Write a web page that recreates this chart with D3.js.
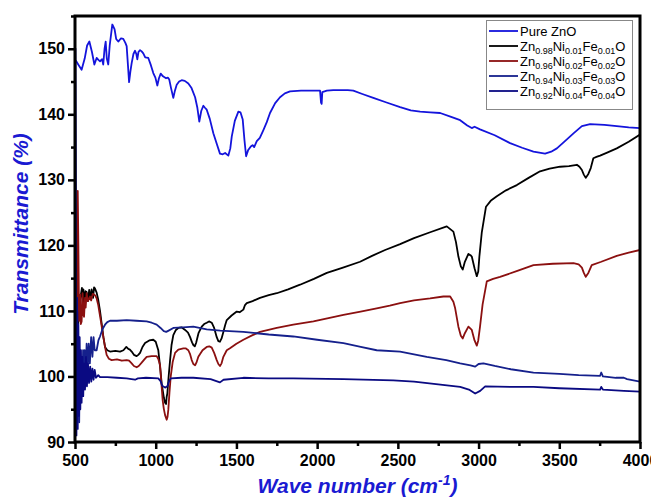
<!DOCTYPE html>
<html lang="en">
<head>
<meta charset="UTF-8">
<title>FTIR</title>
<script src="https://cdn.jsdelivr.net/npm/d3@7"></script>
<style>
  body { margin: 0; background: #fff; }
  svg { display: block; font-family: 'Liberation Sans', Arial, sans-serif; }
  .tick text { font-weight: bold; font-size: 16px; fill: #000; }
  .tick line { stroke: #000; stroke-width: 2.5px; }
  .domain { display: none; }
  .trace { fill: none; stroke-width: 1.8px; stroke-linejoin: round; }
</style>
</head>
<body>
<svg id="chart" width="651" height="499"></svg>
<script>
// wavenumber (cm-1), transmittance (%)
const pureZnO = [[505,148.2],[520,147.6],[541,146.8],[560,148.5],[575,150.5],[589,151.1],[605,149.5],[620,147.6],[634,148.6],[645,148.3],[655,148.1],[668,148.4],[675,147.6],[683,150.0],[690,151.1],[697,148.5],[706,147.6],[715,150.5],[731,153.7],[745,153.0],[755,151.5],[768,151.1],[785,151.6],[799,151.5],[812,150.9],[820,150.4],[828,147.5],[835,144.9],[843,146.5],[851,147.8],[862,149.2],[872,149.7],[880,149.2],[886,148.4],[893,149.5],[903,149.8],[913,149.6],[923,149.3],[935,148.7],[954,148.6],[970,147.5],[985,146.3],[998,145.6],[1010,144.4],[1020,145.5],[1031,146.2],[1045,145.8],[1064,145.5],[1075,145.6],[1084,145.3],[1095,144.0],[1109,142.5],[1118,143.5],[1130,144.5],[1145,145.0],[1161,145.2],[1180,145.1],[1202,144.7],[1222,144.0],[1244,142.6],[1258,141.0],[1270,138.9],[1282,140.5],[1295,141.3],[1305,141.0],[1316,140.7],[1335,139.3],[1357,137.1],[1378,135.5],[1398,134.0],[1415,133.9],[1430,134.1],[1450,133.7],[1462,134.8],[1471,136.6],[1490,139.0],[1512,140.4],[1525,140.3],[1539,139.2],[1550,136.0],[1560,133.6],[1572,134.5],[1589,135.1],[1600,135.3],[1610,135.0],[1626,135.9],[1645,136.4],[1667,137.6],[1688,138.8],[1708,140.2],[1740,141.7],[1770,142.6],[1800,143.2],[1832,143.5],[1900,143.6],[1960,143.6],[2018,143.6],[2024,141.8],[2028,141.6],[2032,143.4],[2060,143.6],[2100,143.7],[2142,143.7],[2190,143.7],[2224,143.6],[2280,143.1],[2348,142.5],[2430,141.8],[2514,141.1],[2580,140.6],[2638,140.4],[2700,140.3],[2762,140.2],[2830,139.6],[2886,139.1],[2930,138.3],[2958,137.9],[2975,138.1],[3009,137.7],[3100,136.8],[3195,135.6],[3270,134.9],[3340,134.3],[3412,134.0],[3450,134.3],[3485,134.8],[3530,135.8],[3588,137.1],[3640,138.2],[3691,138.5],[3780,138.4],[3856,138.2],[3930,138.0],[4000,137.9]];

const ni001 = [[520,108.0],[530,111.5],[543,113.5],[548,111.0],[552,113.3],[558,110.8],[565,113.0],[572,112.9],[580,111.5],[588,113.2],[595,111.8],[603,113.3],[612,112.0],[618,113.6],[624,113.4],[634,112.8],[644,111.7],[655,110.0],[665,108.1],[676,106.0],[686,104.5],[700,104.0],[717,103.8],[750,103.9],[779,103.8],[800,104.0],[818,104.5],[830,104.2],[840,104.1],[851,103.8],[865,103.3],[882,103.1],[892,103.3],[903,103.6],[918,104.5],[934,105.1],[960,105.5],[985,105.6],[1000,105.3],[1016,104.0],[1027,101.5],[1037,98.9],[1051,96.7],[1058,96.0],[1064,95.8],[1068,96.9],[1072,97.4],[1080,100.0],[1089,102.5],[1098,104.8],[1109,106.3],[1125,107.1],[1140,107.4],[1160,107.5],[1182,107.1],[1200,106.7],[1213,106.0],[1225,105.2],[1233,104.8],[1242,104.6],[1250,105.1],[1265,106.6],[1285,107.6],[1300,108.0],[1316,108.2],[1330,108.4],[1347,108.2],[1362,107.4],[1378,106.0],[1388,105.4],[1398,105.3],[1408,105.8],[1419,106.8],[1430,107.8],[1440,108.6],[1470,109.3],[1502,109.9],[1520,109.8],[1543,110.2],[1553,110.9],[1564,111.2],[1600,111.5],[1646,112.0],[1700,112.4],[1750,112.7],[1820,113.3],[1894,114.0],[1980,114.9],[2060,115.8],[2160,116.6],[2266,117.5],[2340,118.4],[2421,119.3],[2514,120.2],[2600,121.1],[2700,122.0],[2803,122.9],[2844,122.1],[2860,120.5],[2875,118.3],[2890,116.8],[2902,116.3],[2915,117.5],[2937,118.7],[2950,118.5],[2958,118.3],[2975,116.5],[2989,115.3],[2998,116.0],[3005,118.3],[3020,122.0],[3046,125.9],[3075,126.8],[3113,127.5],[3170,128.4],[3237,129.2],[3310,130.3],[3381,131.3],[3440,131.7],[3505,132.0],[3560,132.1],[3609,132.3],[3625,132.0],[3640,131.5],[3652,130.8],[3664,130.3],[3680,130.9],[3695,131.8],[3711,133.3],[3730,133.5],[3753,133.7],[3800,134.2],[3856,134.8],[3930,135.8],[4000,136.9]];

const ni002 = [[510,100.0],[514,118.0],[517,128.3],[521,120.0],[525,108.5],[532,112.5],[536,108.0],[541,108.4],[547,112.7],[552,109.5],[556,109.1],[562,112.0],[566,110.5],[572,112.7],[580,111.5],[593,112.2],[600,111.6],[610,112.6],[624,112.4],[634,111.9],[644,110.9],[660,108.5],[675,106.1],[686,104.5],[696,103.3],[710,102.7],[727,102.5],[760,102.6],[790,102.4],[820,102.5],[835,102.4],[851,102.0],[865,101.6],[882,101.4],[895,101.6],[913,102.1],[930,102.6],[944,103.0],[975,103.1],[1006,103.1],[1017,102.6],[1027,101.7],[1035,99.0],[1043,96.4],[1050,95.1],[1058,94.1],[1068,93.4],[1073,93.8],[1078,94.9],[1085,97.5],[1093,100.0],[1105,102.2],[1120,103.6],[1140,104.1],[1171,104.3],[1185,104.3],[1202,104.0],[1213,103.4],[1223,102.5],[1233,101.9],[1244,101.7],[1252,102.1],[1264,103.0],[1290,104.0],[1316,104.5],[1332,104.6],[1347,104.4],[1362,103.6],[1378,102.5],[1388,101.9],[1398,101.6],[1408,102.0],[1419,103.0],[1440,104.0],[1460,104.3],[1500,105.0],[1543,105.6],[1600,106.3],[1646,106.8],[1750,107.4],[1852,107.9],[1977,108.4],[2070,108.9],[2163,109.4],[2269,109.9],[2369,110.4],[2450,110.8],[2514,111.2],[2600,111.6],[2700,111.9],[2782,112.2],[2824,112.2],[2844,111.4],[2855,110.4],[2875,107.6],[2890,106.2],[2902,105.8],[2915,106.6],[2937,107.6],[2958,107.1],[2975,105.5],[2989,104.7],[2998,105.5],[3009,107.6],[3025,111.0],[3051,114.5],[3090,114.9],[3133,115.2],[3240,116.1],[3340,117.0],[3460,117.2],[3588,117.3],[3620,117.1],[3640,116.6],[3652,115.8],[3664,115.2],[3680,115.8],[3701,117.0],[3760,117.5],[3856,118.4],[3930,118.9],[4000,119.3]];

const ni003 = [[500,155.0],[503,120.0],[506,92.0],[510,98.0],[514,110.0],[518,95.0],[522,106.0],[526,93.0],[530,104.0],[535,96.0],[540,103.0],[545,97.0],[550,104.0],[555,99.0],[560,104.0],[566,100.0],[572,105.0],[578,101.0],[585,105.0],[592,102.0],[600,106.0],[608,103.0],[615,106.0],[622,104.0],[634,104.0],[645,105.5],[655,106.1],[670,107.2],[686,107.9],[700,108.3],[717,108.5],[760,108.5],[820,108.6],[880,108.5],[944,108.4],[975,108.2],[1006,107.9],[1030,107.4],[1050,106.9],[1065,106.8],[1080,107.0],[1109,107.4],[1170,107.5],[1233,107.6],[1316,107.2],[1400,107.0],[1543,106.8],[1700,106.4],[1852,106.1],[2000,105.6],[2163,105.1],[2270,104.5],[2369,104.0],[2514,103.8],[2679,103.0],[2800,102.5],[2886,102.0],[2950,101.7],[2979,101.5],[3000,101.9],[3030,102.0],[3100,101.6],[3200,101.1],[3340,100.6],[3500,100.4],[3620,100.2],[3753,100.1],[3760,100.6],[3770,100.0],[3850,99.8],[3900,99.8],[3920,99.6],[4000,99.2]];

const ni004 = [[500,91.0],[503,150.0],[506,125.0],[509,91.0],[513,112.0],[517,92.0],[521,108.0],[525,94.0],[529,106.0],[533,95.0],[537,104.0],[541,96.0],[546,103.0],[551,97.0],[556,102.0],[562,98.0],[568,103.0],[574,98.5],[580,102.0],[587,99.0],[594,101.5],[601,99.2],[608,101.2],[615,99.5],[622,101.0],[630,99.8],[644,100.2],[655,99.9],[700,99.9],[760,99.8],[820,99.7],[850,99.6],[872,99.5],[890,99.7],[940,99.8],[1016,99.7],[1030,99.3],[1040,98.6],[1058,98.3],[1072,98.5],[1085,99.4],[1093,99.7],[1160,99.8],[1233,99.8],[1340,99.6],[1398,99.1],[1420,99.5],[1543,99.8],[1700,99.7],[1852,99.7],[2163,99.6],[2472,99.4],[2600,99.2],[2750,98.8],[2886,98.4],[2940,98.0],[2979,97.4],[3010,97.8],[3041,98.5],[3200,98.4],[3340,98.4],[3500,98.2],[3753,98.0],[3760,98.4],[3770,98.0],[3900,97.8],[4000,97.7]];

const xTicks = [500, 1000, 1500, 2000, 2500, 3000, 3500, 4000];
const yTicks = [90, 100, 110, 120, 130, 140, 150];

const svg = d3.select('#chart');
const mLeft = 75, mRight = 640, mTop = 16, mBottom = 442;

const x = d3.scaleLinear().domain([500, 4000]).range([mLeft, mRight]);
const y = d3.scaleLinear().domain([90, 155]).range([mBottom, mTop]);

svg.append('clipPath').attr('id', 'clip')
  .append('rect').attr('x', mLeft).attr('y', mTop)
  .attr('width', mRight - mLeft).attr('height', mBottom - mTop);

const line = d3.line().x(d => x(d[0])).y(d => y(d[1]));

const series = [
  { data: pureZnO, color: '#1414dc', parts: ['Pure ZnO'] },
  { data: ni001, color: '#000000', parts: ['0.98', '0.01', '0.01'] },
  { data: ni002, color: '#8b1010', parts: ['0.96', '0.02', '0.02'] },
  { data: ni003, color: '#15208c', parts: ['0.94', '0.03', '0.03'] },
  { data: ni004, color: '#0a0a82', parts: ['0.92', '0.04', '0.04'] }
];

const plot = svg.append('g').attr('clip-path', 'url(#clip)');
series.forEach(s => {
  plot.append('path').datum(s.data)
    .attr('class', 'trace')
    .attr('stroke', s.color)
    .attr('d', line);
});

// axes
const xMinor = d3.range(750, 4000, 500);
const yMinor = d3.range(95, 156, 10);

svg.append('g').attr('transform', `translate(0,${mBottom})`)
  .call(d3.axisBottom(x).tickValues(xMinor).tickSize(4).tickFormat(''));
svg.append('g').attr('transform', `translate(0,${mBottom})`)
  .call(d3.axisBottom(x).tickValues(xTicks).tickSize(7).tickPadding(6).tickFormat(d3.format('d')));

svg.append('g').attr('transform', `translate(${mLeft},0)`)
  .call(d3.axisLeft(y).tickValues(yMinor).tickSize(4).tickFormat(''));
svg.append('g').attr('transform', `translate(${mLeft},0)`)
  .call(d3.axisLeft(y).tickValues(yTicks).tickSize(7).tickPadding(3).tickFormat(d3.format('d')));

// frame
svg.append('rect')
  .attr('x', mLeft).attr('y', mTop)
  .attr('width', mRight - mLeft).attr('height', mBottom - mTop)
  .attr('fill', 'none').attr('stroke', '#000').attr('stroke-width', 3);

// axis titles
svg.append('text')
  .attr('x', (mLeft + mRight) / 2).attr('y', 493)
  .attr('text-anchor', 'middle')
  .attr('fill', '#1a1ad2')
  .style('font-weight', 'bold').style('font-style', 'italic').style('font-size', '21px')
  .call(t => {
    t.append('tspan').text('Wave number (cm');
    t.append('tspan').attr('dy', -8).style('font-size', '14px').text('-1');
    t.append('tspan').attr('dy', 8).text(')');
  });

svg.append('text')
  .attr('transform', 'translate(28,224) rotate(-90)')
  .attr('text-anchor', 'middle')
  .attr('fill', '#1a1ad2')
  .style('font-weight', 'bold').style('font-style', 'italic').style('font-size', '21px')
  .text('Transmittance (%)');

// legend
const lg = svg.append('g');
lg.append('rect')
  .attr('x', 486.5).attr('y', 20.5).attr('width', 146).attr('height', 89)
  .attr('fill', '#fff').attr('stroke', '#888').attr('stroke-width', 1);

series.forEach((s, i) => {
  const cy = 31 + i * 15;
  lg.append('line')
    .attr('x1', 489).attr('x2', 518).attr('y1', cy).attr('y2', cy)
    .attr('stroke', s.color).attr('stroke-width', 1.8);
  const t = lg.append('text')
    .attr('x', 520).attr('y', cy + 4.5)
    .style('font-size', '13px').attr('fill', '#000');
  if (s.parts.length === 1) {
    t.text(s.parts[0]);
  } else {
    const els = ['Zn', 'Ni', 'Fe'];
    els.forEach((e, k) => {
      t.append('tspan').attr('dy', k === 0 ? 0 : -3).text(e);
      t.append('tspan').attr('dy', 3).style('font-size', '9px').text(s.parts[k]);
    });
    t.append('tspan').attr('dy', -3).text('O');
  }
});
</script>
</body>
</html>
